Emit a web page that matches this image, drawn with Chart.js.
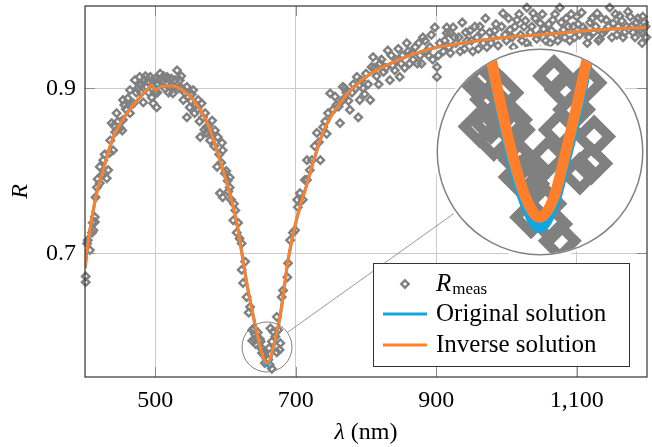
<!DOCTYPE html>
<html>
<head>
<meta charset="utf-8">
<script src="https://cdn.jsdelivr.net/npm/chart.js@4.4.1/dist/chart.umd.min.js"></script>
<style>
  html, body { margin: 0; padding: 0; background: #fff; }
  #wrap { position: relative; width: 652px; height: 447px; }
  #inset { position: absolute; left: 438px; top: 50px; width: 204px; height: 204px;
           border-radius: 50%; overflow: hidden; background: #fff;
           box-shadow: 0 0 0 1.5px #808080, 0 0 0 4px #fff; }
</style>
</head>
<body>
<div id="wrap">
  <canvas id="main" width="652" height="447"></canvas>
  <div id="inset"><canvas id="zoom" width="204" height="204"></canvas></div>
</div>
<script>
// measured reflectance (wavelength in nm)
var measWl = [
  401,401,403,404,407,410,411,412,414,414,
  415,417,421,421,426,431,433,436,438,440,
  443,445,450,453,454,454,458,464,464,469,
  471,475,478,481,483,485,488,490,493,495,
  497,499,502,504,507,510,514,517,521,525,
  528,531,535,538,540,545,545,549,552,554,
  558,561,564,566,568,571,573,573,578,581,
  585,588,589,592,595,596,596,599,603,606,
  606,611,614,616,618,620,623,623,625,628,
  630,633,635,638,638,642,646,649,650,652,
  655,656,662,666,668,673,675,677,680,682,
  688,689,692,696,699,702,703,706,710,713,
  716,716,720,723,730,735,739,746,749,753,
  758,763,767,767,772,777,782,787,789,791,
  796,800,806,808,810,815,820,825,831,834,
  838,844,848,852,858,862,865,870,873,877,
  881,886,891,895,898,901,901,905,910,915,
  915,920,920,924,928,932,937,940,944,948,
  952,958,962,967,972,976,981,985,990,995,
  1000,1005,1010,1015,1015,1020,1025,1029,1029,1034,
  1038,1043,1048,1048,1053,1058,1062,1066,1071,1076,
  1081,1085,1090,1095,1100,1104,1109,1115,1119,1124,
  1129,1133,1137,1142,1147,1152,1157,1161,1166,1171,
  1176,1180,1185,1190,1193,1194,1198,
  418,424,428,435,441,447,456,461,466,473,
  477,480,486,491,496,500,503,506,512,516,
  519,523,527,533,537,542,547,551,556,560,
  563,570,576,580,584,591,594,601,604,608,
  612,727,733,742,744,756,761,770,775,780,
  785,793,798,803,812,818,822,828,836,841,
  846,850,855,860,867,875,879,884,889,893,
  903,912,918,926,934,942,950,955,960,965,
  970,978,983,988,993,998,1003,1008,1012,1018,
  1022,1027,1032,1036,1041,1046,1051,1056,1060,1064,
  1069,1073,1078,1083,1088,1092,1097,1102,1107,1112,
  1117,1122,1127,1131,1135,1140,1145,1150,1155,1159,
  1164,1168,1173,1178,1183,1187,1192,1196,1199,
  642,643,650,652,640,655,671,666,678,673,
  664,661,663
];
var measR = [
  .665,.672,.712,.716,.704,.725,.737,.728,.744,.738,
  .768,.780,.785,.805,.813,.791,.801,.837,.858,.825,
  .847,.870,.852,.849,.862,.886,.875,.870,.898,.882,
  .910,.900,.914,.905,.883,.910,.902,.908,.914,.889,
  .882,.895,.877,.905,.918,.908,.900,.914,.902,.894,
  .910,.922,.910,.900,.886,.902,.865,.877,.893,.898,
  .880,.886,.841,.882,.865,.870,.853,.846,.837,.861,
  .849,.805,.841,.773,.834,.825,.768,.797,.788,.792,
  .780,.740,.752,.725,.737,.718,.712,.680,.664,.690,
  .647,.628,.635,.607,.594,.595,.604,.596,.586,.579,
  .577,.567,.585,.560,.605,.623,.607,.583,.647,.655,
  .671,.688,.716,.725,.728,.765,.756,.773,.765,.789,
  .789,.813,.801,.813,.846,.813,.853,.870,.894,.874,
  .880,.858,.902,.886,.895,.874,.905,.914,.865,.886,
  .900,.918,.886,.926,.938,.915,.930,.920,.946,.910,
  .928,.934,.914,.940,.955,.930,.943,.950,.930,.940,
  .962,.945,.950,.935,.974,.926,.914,.955,.945,.967,
  .974,.943,.967,.974,.955,.962,.980,.948,.958,.970,
  .945,.962,.975,.955,.950,.968,.962,.978,.934,.991,
  .958,.971,.950,.983,.943,.965,.975,.998,.955,.968,
  .991,.960,.979,.946,.972,.967,.955,.983,.965,.998,
  .971,.985,.958,.975,.987,.965,.974,.955,.980,.968,
  .991,.960,.967,.983,.998,.979,.965,.988,.962,.975,
  .987,.968,.980,.971,.955,.987,.975,
  .790,.795,.820,.822,.855,.860,.880,.888,.880,.895,
  .905,.895,.915,.895,.910,.912,.895,.910,.915,.905,
  .895,.912,.902,.900,.915,.895,.890,.885,.870,.875,
  .860,.850,.855,.845,.830,.820,.810,.800,.775,.765,
  .760,.830,.835,.860,.845,.890,.878,.900,.885,.895,
  .900,.910,.893,.905,.925,.905,.935,.925,.940,.922,
  .948,.930,.925,.945,.935,.955,.930,.958,.940,.965,
  .940,.958,.950,.962,.945,.968,.958,.975,.948,.968,
  .985,.955,.970,.952,.975,.965,.985,.962,.975,.990,
  .958,.982,.950,.975,.985,.965,.990,.958,.978,.970,
  .990,.958,.980,.962,.975,.990,.962,.978,.992,.970,
  .962,.985,.975,.958,.985,.970,.975,.962,.990,.975,
  .982,.968,.993,.975,.962,.985,.968,.980,.962,
  .602,.590,.593,.584,.609,.579,.599,.593,.591,.580,
  .609,.571,.565
];

// fitted curves
var curveWl = [
  400,405,410,418,426,433,440,450,460,470,
  478,488,495,500,507,514,525,535,545,554,
  564,573,582,592,602,610,616,623,630,635,
  640,645,649,654,659,664,668,673,678,683,
  688,696,702,710,716,725,739,750,763,775,
  787,805,824,845,863,880,901,930,960,1000,
  1048,1100,1150,1200
];
var origR = [
  .682,.716,.744,.778,.801,.822,.840,.857,.870,.881,
  .889,.898,.902,.902,.903,.903,.903,.900,.894,.886,
  .874,.860,.840,.813,.785,.760,.737,.702,.665,.643,
  .622,.601,.585,.571,.564,.571,.584,.602,.625,.654,
  .686,.722,.744,.768,.784,.811,.847,.866,.882,.895,
  .905,.917,.926,.934,.940,.945,.950,.954,.958,.962,
  .965,.969,.972,.974
];
var invR = [
  .682,.716,.744,.778,.801,.822,.840,.857,.870,.881,
  .889,.898,.904,.898,.902,.903,.903,.900,.894,.886,
  .874,.860,.840,.813,.785,.760,.737,.702,.665,.643,
  .622,.602,.587,.573,.567,.573,.586,.604,.625,.654,
  .686,.722,.744,.768,.784,.811,.847,.866,.882,.895,
  .905,.917,.926,.934,.940,.945,.950,.954,.958,.962,
  .965,.969,.972,.974
];

var xTicks = [500, 700, 900, 1100];
var yTicks = [0.7, 0.9];

// magnified window
var insetWl = [623.5, 694.7];
var insetR = [0.5561, 0.6167];

var GRAY = '#808080', BLUE = '#12a6e0', ORANGE = '#ff7f2a';
var SERIF = '"Liberation Serif", "Times New Roman", serif';

Chart.defaults.font.family = SERIF;
Chart.defaults.color = '#000';

function pts(xs, ys) {
    return xs.map(function(x, i) { return { x: x, y: ys[i] }; });
}

function makeDatasets(k, lw) {
    return [
        { label: 'Inverse solution', data: pts(curveWl, invR), showLine: true,
          borderColor: ORANGE, borderWidth: lw, pointRadius: 0,
          cubicInterpolationMode: 'monotone' },
        { label: 'Original solution', data: pts(curveWl, origR), showLine: true,
          borderColor: BLUE, borderWidth: lw, pointRadius: 0,
          cubicInterpolationMode: 'monotone' },
        { label: 'Rmeas', data: pts(measWl, measR), showLine: false,
          pointStyle: 'rectRot', pointRadius: 3.7 * k, borderWidth: 2.4 * k,
          borderColor: GRAY, backgroundColor: 'rgba(0,0,0,0)', clip: false }
    ];
}

// frame, inner ticks, zoom marker, x title and legend
var decor = {
    id: 'decor',
    afterDraw: function(chart) {
        var ctx = chart.ctx, a = chart.chartArea;
        var xs = chart.scales.x, ys = chart.scales.y;
        ctx.save();

        ctx.strokeStyle = '#8c8c8c';
        ctx.lineWidth = 1;
        ctx.beginPath();
        xTicks.forEach(function(v) {
            var px = Math.round(xs.getPixelForValue(v)) + 0.5;
            ctx.moveTo(px, a.bottom); ctx.lineTo(px, a.bottom - 10);
            ctx.moveTo(px, a.top); ctx.lineTo(px, a.top + 10);
        });
        yTicks.forEach(function(v) {
            var py = Math.round(ys.getPixelForValue(v)) + 0.5;
            ctx.moveTo(a.left, py); ctx.lineTo(a.left + 10, py);
            ctx.moveTo(a.right, py); ctx.lineTo(a.right - 10, py);
        });
        ctx.stroke();

        ctx.strokeStyle = '#333';
        ctx.lineWidth = 1.2;
        ctx.strokeRect(a.left, a.top, a.right - a.left, a.bottom - a.top);

        // small circle round the minimum and line to the magnifier
        var cx = xs.getPixelForValue((insetWl[0] + insetWl[1]) / 2);
        var cy = ys.getPixelForValue((insetR[0] + insetR[1]) / 2);
        var r = xs.getPixelForValue(insetWl[1]) - cx;
        var bx = 540, by = 152, br = 102;
        var dx = bx - cx, dy = by - cy, d = Math.sqrt(dx * dx + dy * dy);
        ctx.strokeStyle = GRAY;
        ctx.lineWidth = 1;
        ctx.beginPath();
        ctx.arc(cx, cy, r, 0, Math.PI * 2);
        ctx.stroke();
        ctx.lineWidth = 0.8;
        ctx.beginPath();
        ctx.moveTo(cx + dx / d * r, cy + dy / d * r);
        ctx.lineTo(bx - dx / d * br, by - dy / d * br);
        ctx.stroke();

        // x axis title: italic lambda + (nm)
        ctx.fillStyle = '#000';
        ctx.textBaseline = 'middle';
        ctx.textAlign = 'left';
        ctx.font = 'italic 24px ' + SERIF;
        var lw = ctx.measureText('λ').width;
        ctx.font = '24px ' + SERIF;
        var nw = ctx.measureText(' (nm)').width;
        var x0 = (a.left + a.right) / 2 - (lw + nw) / 2;
        ctx.font = 'italic 24px ' + SERIF;
        ctx.fillText('λ', x0, 433);
        ctx.font = '24px ' + SERIF;
        ctx.fillText(' (nm)', x0 + lw, 433);

        // legend
        var W = 256, H = 103;
        var L = a.right - 18 - W, T = a.bottom - 11 - H;
        ctx.fillStyle = '#fff';
        ctx.fillRect(L, T, W, H);
        ctx.strokeStyle = '#333';
        ctx.lineWidth = 1;
        ctx.strokeRect(L + 0.5, T + 0.5, W, H);

        var mx = L + 32, my = T + 21, mr = 3.7;
        ctx.strokeStyle = GRAY;
        ctx.lineWidth = 2.4;
        ctx.beginPath();
        ctx.moveTo(mx, my - mr); ctx.lineTo(mx + mr, my);
        ctx.lineTo(mx, my + mr); ctx.lineTo(mx - mr, my);
        ctx.closePath();
        ctx.stroke();

        ctx.lineWidth = 3;
        ctx.strokeStyle = BLUE;
        ctx.beginPath(); ctx.moveTo(L + 10, T + 51); ctx.lineTo(L + 54, T + 51); ctx.stroke();
        ctx.strokeStyle = ORANGE;
        ctx.beginPath(); ctx.moveTo(L + 10, T + 82); ctx.lineTo(L + 54, T + 82); ctx.stroke();

        ctx.fillStyle = '#000';
        var tx = L + 63;
        ctx.font = 'italic 25px ' + SERIF;
        ctx.fillText('R', tx, T + 21);
        var rw = ctx.measureText('R').width;
        ctx.font = '17px ' + SERIF;
        ctx.fillText('meas', tx + rw + 1, T + 27);
        ctx.font = '25px ' + SERIF;
        ctx.fillText('Original solution', tx, T + 51);
        ctx.fillText('Inverse solution', tx, T + 82);
        ctx.restore();
    }
};

var tickFont = { size: 24, family: SERIF };

new Chart(document.getElementById('main').getContext('2d'), {
    type: 'scatter',
    data: { datasets: makeDatasets(1, 3) },
    options: {
        responsive: false,
        animation: false,
        layout: { autoPadding: false, padding: { left: 0, right: 5, top: 6, bottom: 0 } },
        plugins: { legend: { display: false }, tooltip: { enabled: false } },
        scales: {
            x: {
                type: 'linear', min: 400, max: 1200,
                afterBuildTicks: function(s) { s.ticks = xTicks.map(function(v) { return { value: v }; }); },
                afterFit: function(s) { s.height = 70; s.paddingLeft = 0; s.paddingRight = 0; },
                ticks: { font: tickFont, padding: 9, maxRotation: 0, autoSkip: false,
                         callback: function(v) { return v.toLocaleString('en-US'); } },
                grid: { color: '#cbcbcb', drawTicks: false },
                border: { display: false }
            },
            y: {
                type: 'linear', min: 0.55, max: 1.0,
                afterBuildTicks: function(s) { s.ticks = yTicks.map(function(v) { return { value: v }; }); },
                afterFit: function(s) { s.width = 85; s.paddingTop = 0; s.paddingBottom = 0; },
                ticks: { font: tickFont, padding: 9, autoSkip: false,
                         callback: function(v) { return v.toFixed(1); } },
                grid: { color: '#cbcbcb', drawTicks: false },
                border: { display: false },
                title: { display: true, text: 'R', font: { size: 24, family: SERIF, style: 'italic' },
                         padding: { top: 6, bottom: 0 } }
            }
        }
    },
    plugins: [decor]
});

// magnified view of the minimum, 4.08x
new Chart(document.getElementById('zoom').getContext('2d'), {
    type: 'scatter',
    data: { datasets: makeDatasets(4.08, 11) },
    options: {
        responsive: false,
        animation: false,
        events: [],
        layout: { autoPadding: false, padding: 0 },
        plugins: { legend: { display: false }, tooltip: { enabled: false } },
        scales: {
            x: { type: 'linear', min: insetWl[0], max: insetWl[1], display: false },
            y: { type: 'linear', min: insetR[0], max: insetR[1], display: false }
        }
    }
});
</script>
</body>
</html>
